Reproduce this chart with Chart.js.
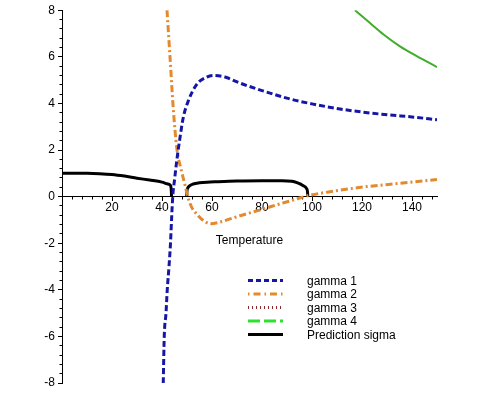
<!DOCTYPE html>
<html>
<head>
<meta charset="utf-8">
<title>gamma / prediction sigma vs temperature</title>
<script src="https://cdn.jsdelivr.net/npm/chart.js@4.4.1/dist/chart.umd.min.js"></script>
<style>
    html, body { margin: 0; padding: 0; background: #ffffff; }
    canvas { display: block; }
</style>
</head>
<body>
<canvas id="gammaChart" width="484" height="394"></canvas>
<script>
// Values (temperature, value)
const gamma1T = [40.5, 40.9, 41.6, 42.1, 42.8, 43.4, 43.9, 44.3, 45.1, 45.9, 47.2, 48.5, 50.5, 53.9, 57.9, 60.5, 65.2, 71.2, 80, 91.2, 100, 111.2, 120, 131.2, 140, 150];
const gamma1V = [-8, -6, -5, -4, -3, -2, -0.8, 0, 0.8, 1.54, 2.53, 3.39, 4.1, 4.82, 5.13, 5.2, 5.13, 4.87, 4.55, 4.19, 3.98, 3.76, 3.63, 3.5, 3.42, 3.3];

const gamma2T = [42, 43.2, 44.5, 45.9, 47.9, 49.2, 50.3, 51.9, 53.9, 56, 59.5, 63, 71.2, 80, 87.2, 93, 98, 108.5, 121.9, 135.2, 150];
const gamma2V = [8, 6, 3.8, 2.1, 1.05, 0.5, 0, -0.46, -0.75, -0.98, -1.17, -1.1, -0.82, -0.55, -0.31, -0.13, 0.03, 0.23, 0.43, 0.57, 0.73];

// gamma 3 never enters the plotted window
const gamma3T = [];
const gamma3V = [];

const gamma4T = [117.2, 123.2, 128.5, 135.2, 141.9, 150];
const gamma4V = [8, 7.45, 6.97, 6.45, 6.03, 5.56];

// prediction sigma has two pieces, with a gap between them
const sigmaT1 = [0, 10, 15, 20, 25, 30, 35, 40, 42, 43.3, 43.6, 43.75, 43.8];
const sigmaV1 = [1.0, 1.0, 0.985, 0.95, 0.88, 0.79, 0.71, 0.62, 0.55, 0.49, 0.4, 0.2, 0];
const sigmaT2 = [49.9, 49.95, 50.2, 51, 52.5, 55, 58, 62, 70, 80, 88, 92, 94, 96.5, 97.9, 98.25, 98.3];
const sigmaV2 = [0, 0.2, 0.35, 0.46, 0.54, 0.59, 0.62, 0.64, 0.67, 0.68, 0.68, 0.66, 0.6, 0.47, 0.33, 0.15, 0];

const seriesLabels = ['gamma 1', 'gamma 2', 'gamma 3', 'gamma 4', 'Prediction sigma'];
const xTickLabels = [20, 40, 60, 80, 100, 120, 140];
const yTickLabels = [-8, -6, -4, -2, 0, 2, 4, 6, 8];

const FONT = '"Liberation Sans", Arial, sans-serif';

const toPoints = (ts, vs) => ts.map((t, i) => ({ x: t, y: vs[i] }));

const sigmaPoints = [
    ...toPoints(sigmaT1, sigmaV1),
    { x: 46.8, y: null },
    ...toPoints(sigmaT2, sigmaV2)
];

// how each series looks in the legend box
const legendStyles = [
    { color: '#1616a6', dash: [5, 3], width: 3 },
    { color: '#e3892f', dash: [1.5, 4, 7, 4], width: 3 },
    { color: '#8b2a2a', dash: [1, 3], width: 3 },
    { color: '#2fe02f', dash: [12, 4], width: 3 },
    { color: '#000000', dash: [], width: 3 }
];

const legendPlugin = {
    id: 'boxLegend',
    afterDraw(chart) {
        const ctx = chart.ctx;
        ctx.save();
        ctx.font = '12px ' + FONT;
        ctx.textBaseline = 'middle';
        ctx.textAlign = 'left';
        seriesLabels.forEach((label, i) => {
            const y = 280.5 + i * 13.5;
            const st = legendStyles[i];
            ctx.beginPath();
            ctx.strokeStyle = st.color;
            ctx.lineWidth = st.width;
            ctx.setLineDash(st.dash);
            ctx.moveTo(248, y);
            ctx.lineTo(283, y);
            ctx.stroke();
            ctx.setLineDash([]);
            ctx.fillStyle = '#000';
            ctx.fillText(label, 307, y + 1);
        });
        ctx.restore();
    }
};

const sameValue = (a, b) => Math.abs(a - b) < 1e-6;

new Chart(document.getElementById('gammaChart').getContext('2d'), {
    type: 'line',
    data: {
        datasets: [{
            label: seriesLabels[0],
            data: toPoints(gamma1T, gamma1V),
            borderColor: '#1616a6',
            borderWidth: 3,
            borderDash: [6, 3]
        }, {
            label: seriesLabels[1],
            data: toPoints(gamma2T, gamma2V),
            borderColor: '#e3892f',
            borderWidth: 3,
            borderDash: [7, 3, 2, 3]
        }, {
            label: seriesLabels[2],
            data: toPoints(gamma3T, gamma3V),
            borderColor: '#8b2a2a',
            borderWidth: 3,
            borderDash: [1, 3]
        }, {
            label: seriesLabels[3],
            data: toPoints(gamma4T, gamma4V),
            borderColor: '#3fae2a',
            borderWidth: 2
        }, {
            label: seriesLabels[4],
            data: sigmaPoints,
            borderColor: '#000000',
            borderWidth: 3,
            spanGaps: false
        }]
    },
    options: {
        responsive: false,
        animation: false,
        devicePixelRatio: 1,
        layout: { padding: { left: 0, right: 47, top: 9, bottom: 11 } },
        elements: {
            point: { radius: 0, hoverRadius: 0 },
            line: { fill: false, cubicInterpolationMode: 'monotone' }
        },
        plugins: {
            legend: { display: false },
            tooltip: { enabled: false }
        },
        scales: {
            x: {
                type: 'linear',
                min: 0,
                max: 150,
                position: { y: 0 },
                border: { display: true, color: '#000', width: 1 },
                grid: { drawOnChartArea: false, tickLength: 4, color: '#000', tickColor: '#000' },
                ticks: {
                    stepSize: 20,
                    includeBounds: false,
                    autoSkip: false,
                    maxRotation: 0,
                    padding: 0,
                    color: '#000',
                    font: { family: FONT, size: 12 },
                    callback: (v) => xTickLabels.includes(v) ? String(v) : ''
                },
                title: {
                    display: true,
                    text: 'Temperature',
                    color: '#000',
                    font: { family: FONT, size: 12 },
                    padding: { top: 18, bottom: 0 }
                }
            },
            xMinor: {
                type: 'linear',
                axis: 'x',
                min: 0,
                max: 150,
                position: { y: 0 },
                border: { display: false },
                grid: { drawOnChartArea: false, tickLength: 2.5, color: '#000', tickColor: '#000' },
                ticks: { stepSize: 4, includeBounds: false, autoSkip: false, display: false }
            },
            y: {
                type: 'linear',
                min: -8,
                max: 8,
                position: 'left',
                afterFit: (scale) => { scale.width = 62; },
                border: { display: true, color: '#000', width: 1 },
                grid: { drawOnChartArea: false, tickLength: 4, color: '#000', tickColor: '#000' },
                ticks: {
                    stepSize: 2,
                    autoSkip: false,
                    padding: 3,
                    color: '#000',
                    font: { family: FONT, size: 12 },
                    callback: (v) => yTickLabels.some(t => sameValue(v, t)) ? String(Math.round(v)) : ''
                }
            },
            yMinor: {
                type: 'linear',
                axis: 'y',
                min: -8,
                max: 8,
                position: { x: 0 },
                border: { display: false },
                grid: { drawOnChartArea: false, tickLength: 2.5, color: '#000', tickColor: '#000' },
                ticks: { stepSize: 0.4, autoSkip: false, display: false }
            }
        }
    },
    plugins: [legendPlugin]
});
</script>
</body>
</html>
